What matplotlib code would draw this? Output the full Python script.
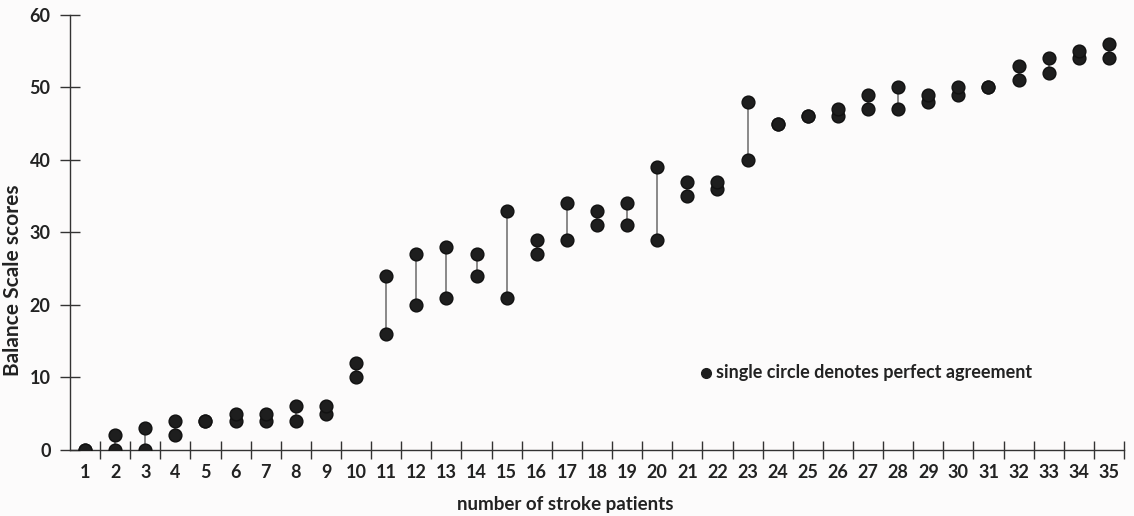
import matplotlib.pyplot as plt
from matplotlib.ticker import FixedLocator

# two raters' Balance Scale scores for each patient
patients = list(range(1, 36))
score_a = [0, 0, 0, 2, 4, 4, 4, 4, 5, 10, 16, 20, 21, 24, 21, 27, 29, 31, 31, 29,
           35, 36, 40, 45, 46, 46, 47, 47, 48, 49, 50, 51, 52, 54, 54]
score_b = [0, 2, 3, 4, 4, 5, 5, 6, 6, 12, 24, 27, 28, 27, 33, 29, 34, 33, 34, 39,
           37, 37, 48, 45, 46, 47, 49, 50, 49, 50, 50, 53, 54, 55, 56]
y_ticks = [0, 10, 20, 30, 40, 50, 60]

plt.rcParams['font.family'] = ['Lato', 'DejaVu Sans']
plt.rcParams['font.weight'] = 'bold'

bg = '#fcfbfb'
fig = plt.figure(figsize=(11.34, 5.16), dpi=100, facecolor=bg)
ax = fig.add_axes([0.0617, 0.128, 0.9295, 0.843], facecolor=bg)

# vertical connecting lines between the two scores
ax.vlines(patients, score_a, score_b, color='#6a6a6a', lw=1.1, zorder=2)
ax.plot(patients, score_a, 'o', color='#1e1e1e', ms=9.2, mec='#111111', zorder=3)
ax.plot(patients, score_b, 'o', color='#1e1e1e', ms=9.2, mec='#111111', zorder=3)

ax.set_xlim(0.5, 35.5)
ax.set_ylim(0, 60)

for s in ['top', 'right']:
    ax.spines[s].set_visible(False)
ax.spines['left'].set_color('#333333')
ax.spines['bottom'].set_color('#333333')
ax.spines['left'].set_linewidth(1.0)
ax.spines['bottom'].set_linewidth(1.0)
ax.spines['bottom'].set_zorder(1)

ax.set_xticks(patients)
ax.set_xticklabels([str(p) for p in patients])
ax.xaxis.set_minor_locator(FixedLocator([p + 0.5 for p in patients]))
ax.tick_params(axis='x', which='major', length=0, pad=10, labelsize=13,
               colors='#222222')
ax.tick_params(axis='x', which='minor', direction='inout', length=13,
               width=1.0, color='#333333')

ax.set_yticks(y_ticks)
ax.tick_params(axis='y', direction='inout', length=14, width=1.0,
               color='#333333', labelsize=13, labelcolor='#222222', pad=7)

ax.set_ylabel('Balance Scale scores', fontsize=15, fontweight='bold',
              color='#222222')
ax.yaxis.set_label_coords(-0.045, 0.39)
ax.set_xlabel('number of stroke patients', fontsize=13.5, fontweight='bold',
              color='#222222')
ax.xaxis.set_label_coords(0.47, -0.105)

# note about single circles
ax.plot([0.603], [0.177], 'o', transform=ax.transAxes, color='#1e1e1e',
        ms=7, clip_on=False)
ax.text(0.613, 0.177, 'single circle denotes perfect agreement',
        transform=ax.transAxes, va='center', ha='left', fontsize=13,
        color='#222222')

fig.savefig('out.png', dpi=100, facecolor=bg)
